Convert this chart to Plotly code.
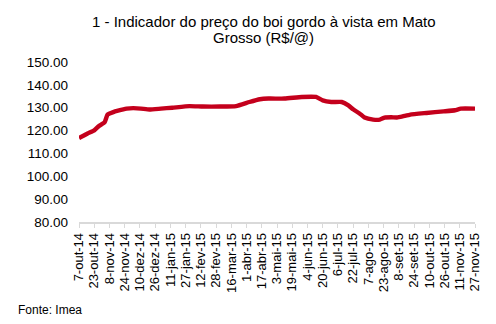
import pandas as pd
import plotly.graph_objects as go

# Indicador do boi gordo à vista - Mato Grosso (R$/@)
dates = [
    "2014-10-07", "2014-10-16", "2014-10-23", "2014-10-28", "2014-11-03",
    "2014-11-06", "2014-11-12", "2014-11-17", "2014-11-26", "2014-12-03",
    "2014-12-11", "2014-12-20", "2015-01-01", "2015-01-13", "2015-01-31",
    "2015-02-14", "2015-03-04", "2015-03-21", "2015-04-04", "2015-04-15",
    "2015-04-24", "2015-05-11", "2015-05-29", "2015-06-13", "2015-06-20",
    "2015-06-29", "2015-07-10", "2015-07-17", "2015-07-22", "2015-07-29",
    "2015-08-03", "2015-08-12", "2015-08-19", "2015-08-24", "2015-08-31",
    "2015-09-06", "2015-09-12", "2015-09-20", "2015-10-07", "2015-10-25",
    "2015-11-06", "2015-11-12", "2015-11-27",
]
prices = [
    116.7, 118.7, 120.1, 122.0, 123.7,
    127.0, 128.1, 128.7, 129.6, 129.8,
    129.6, 129.2, 129.6, 130.0, 130.7,
    130.5, 130.5, 130.7, 132.5, 133.7,
    134.0, 134.0, 134.7, 134.7, 133.2,
    132.5, 132.5, 131.0, 129.3, 127.4,
    125.7, 124.8, 124.8, 125.7, 125.8,
    125.7, 126.2, 127.0, 127.7, 128.4,
    128.9, 129.6, 129.6,
]

tick_labels = [
    "7-out-14", "23-out-14", "8-nov-14", "24-nov-14", "10-dez-14",
    "26-dez-14", "11-jan-15", "27-jan-15", "12-fev-15", "28-fev-15",
    "16-mar-15", "1-abr-15", "17-abr-15", "3-mai-15", "19-mai-15",
    "4-jun-15", "20-jun-15", "6-jul-15", "22-jul-15", "7-ago-15",
    "23-ago-15", "8-set-15", "24-set-15", "10-out-15", "26-out-15",
    "11-nov-15", "27-nov-15",
]
tick_dates = pd.date_range("2014-10-07", periods=len(tick_labels), freq="16D")

title_lines = ["1 - Indicador do preço do boi gordo à vista em Mato", "Grosso (R$/@)"]
source_note = "Fonte: Imea"

font_family = "Liberation Sans, Arial, sans-serif"

fig = go.Figure()
fig.add_trace(go.Scatter(
    x=pd.to_datetime(dates),
    y=prices,
    mode="lines",
    line=dict(color="#C4001C", width=4.4, shape="spline", smoothing=0.4),
    hoverinfo="skip",
))

# Two-line title drawn as stacked annotations for tight line spacing
title_annotations = [
    dict(
        text=line,
        xref="paper", yref="paper",
        x=0.466, y=y,
        xanchor="center", yanchor="middle",
        showarrow=False,
        font=dict(family=font_family, size=15, color="#000000"),
    )
    for line, y in zip(title_lines, [1.252, 1.152])
]

fig.update_layout(
    width=496,
    height=324,
    margin=dict(l=79, r=21, t=62, b=102),
    paper_bgcolor="white",
    plot_bgcolor="white",
    showlegend=False,
    font=dict(family=font_family, size=13, color="#000000"),
    xaxis=dict(
        type="date",
        range=[tick_dates[0], tick_dates[-1]],
        tickvals=tick_dates,
        ticktext=tick_labels,
        tickangle=-90,
        ticks="outside",
        ticklen=4,
        tickcolor="#d9d9d9",
        showline=True,
        linecolor="#d9d9d9",
        linewidth=1.5,
        showgrid=False,
        zeroline=False,
        tickfont=dict(family=font_family, size=13, color="#000000"),
    ),
    yaxis=dict(
        range=[80, 150],
        tickvals=[80, 90, 100, 110, 120, 130, 140, 150],
        tickformat=".2f",
        showline=False,
        showgrid=False,
        zeroline=False,
        ticks="",
        ticklabelstandoff=10,
        tickfont=dict(family=font_family, size=13.5, color="#000000"),
    ),
    annotations=title_annotations + [
        dict(
            text=source_note,
            xref="paper", yref="paper",
            x=-0.16, y=-0.552,
            xanchor="left", yanchor="middle",
            showarrow=False,
            font=dict(family=font_family, size=12, color="#000000"),
        )
    ],
)

fig.write_html("out.html")
